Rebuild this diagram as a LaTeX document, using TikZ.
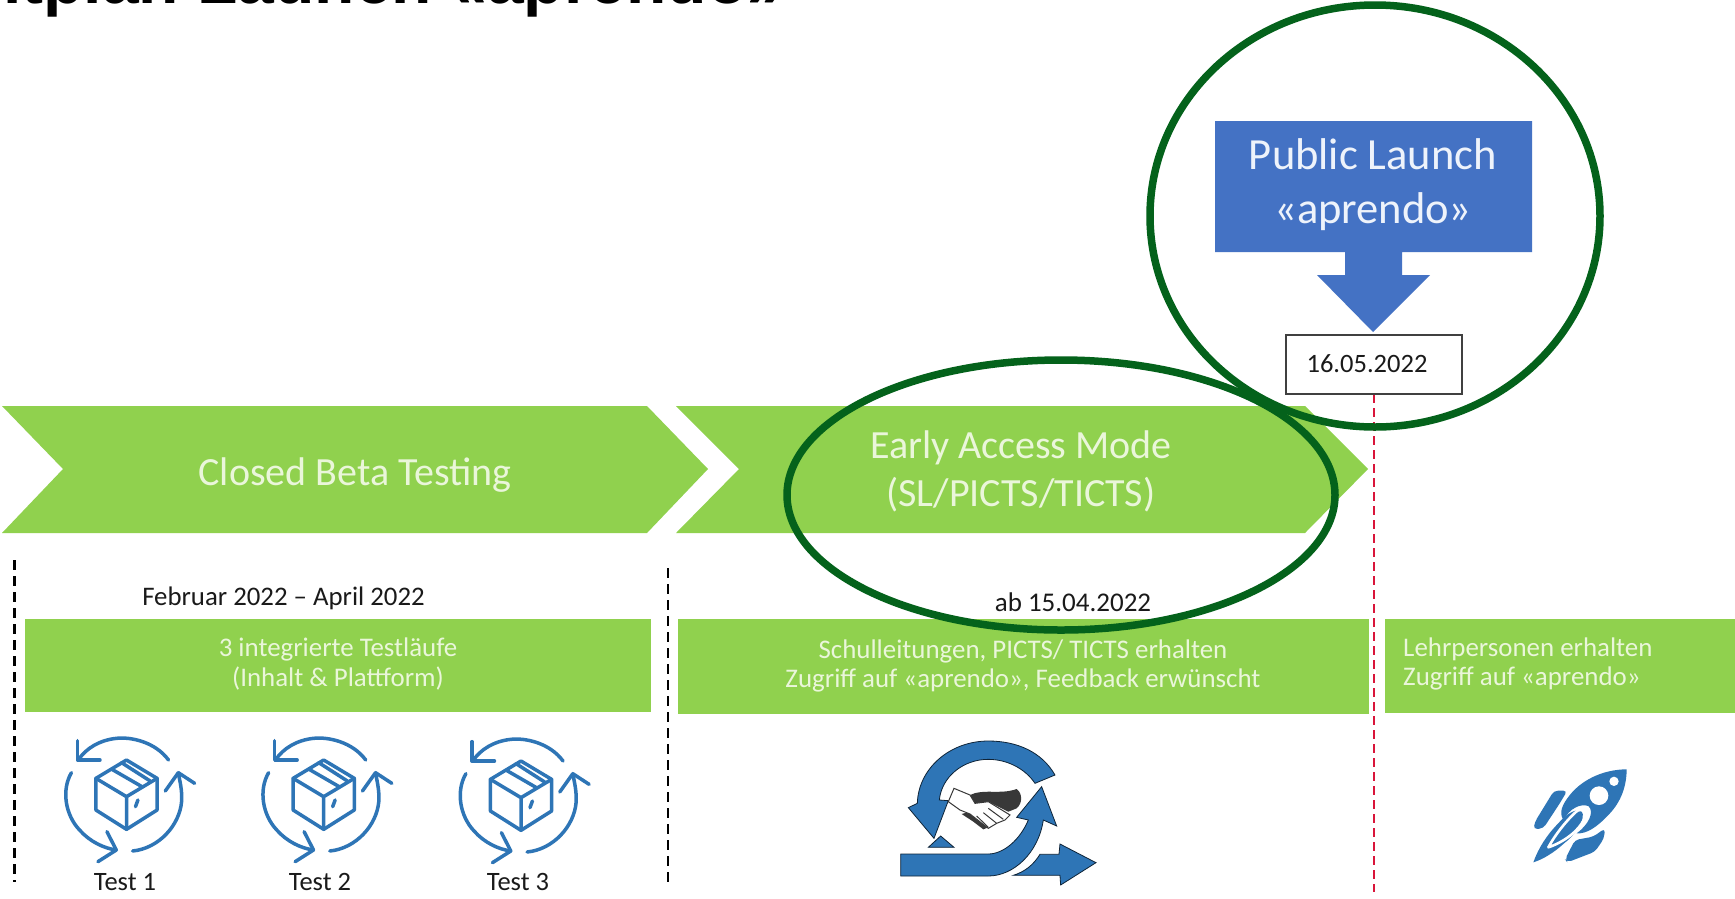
\documentclass[tikz,border=0pt]{standalone}
\usepackage{fontspec}
\setmainfont{Carlito}
\newfontfamily\titlefont{Liberation Sans}
\definecolor{lgreen}{HTML}{90D14E}
\definecolor{ltext}{HTML}{EAF6DA}
\definecolor{btext}{HTML}{EEF3FB}
\definecolor{bbox}{HTML}{4472C4}
\definecolor{ring}{HTML}{04621B}
\definecolor{iconblue}{HTML}{2E75B6}
\definecolor{dtext}{HTML}{1A1A1A}
\definecolor{redline}{HTML}{D9153A}
\newcommand{\fs}[1]{\fontsize{#1}{#1}\selectfont}
\tikzset{
  x=1pt,y=-1pt,
  greenshape/.style={fill=lgreen,draw=none},
  bandtext/.style={text=ltext,align=center,font=\fs{26.9},inner sep=0pt},
  chevtext/.style={text=ltext,align=center,font=\fs{40},inner sep=0pt},
  darktext/.style={text=dtext,inner sep=0pt,font=\fs{26.8}},
  testlabel/.style={text=dtext,inner sep=0pt,font=\fs{26.5}},
  blackdash/.style={draw=black,line width=2.4pt,dash pattern=on 10pt off 6pt},
  reddash/.style={draw=redline,line width=1.8pt,dash pattern=on 9pt off 5pt},
  ringline/.style={draw=ring,line width=7.5pt},
  iconline/.style={draw=iconblue,line width=3.5pt,line cap=round,line join=round},
  solidicon/.style={fill=iconblue,draw=black!70!iconblue,line width=0.8pt,line join=miter},
  rocketfill/.style={fill=iconblue,draw=none},
  boxcycle/.pic={
    \begin{scope}[x=0.408pt,y=-0.3333pt]
      \draw[iconline] (0,-105) -- (75,-50) -- (75,45) -- (0,103) -- (-75,45) -- (-75,-50) -- cycle;
      \draw[iconline] (-75,-50) -- (0,5) -- (75,-50) (0,5) -- (0,103);
      \draw[iconline] (-37,-78) -- (38,-25) (-12,-97) -- (58,-42);
      \draw[iconline] (28,15) -- (22,35);
      % top arc
      \draw[iconline] (103,-105) .. controls (70,-160) and (10,-175) .. (-25,-170) .. controls (-65,-165) and (-100,-140) .. (-118,-105);
      \draw[iconline] (-120,-163) -- (-120,-105) -- (-65,-105);
      % left arc
      \draw[iconline] (-135,-67) .. controls (-160,-15) and (-150,60) .. (-115,105) .. controls (-90,140) and (-55,160) .. (-25,165);
      \draw[iconline] (-48,110) -- (-25,165) -- (-70,200);
      % right arc
      \draw[iconline] (15,168) .. controls (80,160) and (130,90) .. (135,20) .. controls (137,-15) and (130,-45) .. (127,-67);
      \draw[iconline] (95,-12) -- (127,-67) -- (167,-35);
    \end{scope}
  }
}
\begin{document}
\begin{tikzpicture}
\path[use as bounding box,fill=white] (0,0) rectangle (1735,898);
\clip (0,0) rectangle (1735,898);

% title
\node[anchor=base west,inner sep=0pt,font=\titlefont\bfseries\fs{66},text=black] (title) at (3,3.5) {itplan Launch \raisebox{-4pt}{«}aprendo\raisebox{-4pt}{»}};

% chevrons
\path[greenshape] (2,406) -- (647,406) -- (708,469) -- (647,533) -- (2,533) -- (63,469) -- cycle;
\path[greenshape] (676,406) -- (1305,406) -- (1368,469) -- (1305,533) -- (676,533) -- (739,469) -- cycle;
\node[chevtext] (chevA) at (355,475) {Closed Beta Testing};
\node[chevtext] (chevB) at (1021,471) {Early Access Mode\\[8pt](SL/PICTS/TICTS)};

% dashed separators
\coordinate (dashAa) at (14.5,560); \coordinate (dashAb) at (14.5,882);
\coordinate (dashBa) at (668,568); \coordinate (dashBb) at (668,886);
\draw[blackdash] (dashAa) -- (dashAb);
\draw[blackdash] (dashBa) -- (dashBb);

% bands
\path[greenshape] (25,619) rectangle (651,712);
\path[greenshape] (678,619) rectangle (1369,714);
\path[greenshape] (1385,619) rectangle (1735,713);
\node[darktext] (dateA) at (283.5,598) {Februar 2022 – April 2022};
\node[darktext,font=\fs{27}] (dateB) at (1073,602) {ab 15.04.2022};
\node[bandtext] (bandA) at (338,664) {3 integrierte Testläufe\\[3pt](Inhalt \& Plattform)};
\node[bandtext] (bandB) at (1023,666) {Schulleitungen, PICTS/ TICTS erhalten\\[3pt]Zugriff auf «aprendo», Feedback erwünscht};
\node[bandtext,align=left,anchor=west] (bandC) at (1403,664) {Lehrpersonen erhalten\\[3pt]Zugriff auf «aprendo»};

% red line and public launch
\coordinate (redtop) at (1374,394); \coordinate (redbot) at (1374,892);
\draw[reddash] (redtop) -- (redbot);
\path[fill=bbox] (1215,121) -- (1532,121) -- (1532,252) -- (1402,252) -- (1402,275) -- (1430,275) -- (1373,332) -- (1317,275) -- (1345,275) -- (1345,252) -- (1215,252) -- cycle;
\node[text=btext,align=center,font=\fs{44.5},inner sep=0pt] (launch) at (1373,184.5) {Public Launch\\[9.5pt]«aprendo»};
\node[draw=black!75,line width=1.2pt,fill=white,minimum width=176pt,minimum height=59pt,inner sep=0pt] (datebox) at (1374,364.5) {};
\node[darktext,font=\fs{26.5}] (datetext) at (1367,364) {16.05.2022};

% rings
\draw[ringline] (1375,216) ellipse [x radius=225,y radius=211];
\draw[ringline] (1061,495) ellipse [x radius=274,y radius=135];

% test icons
\pic at (126.5,795) {boxcycle};
\pic at (323.7,795) {boxcycle};
\pic at (521,796) {boxcycle};
\node[testlabel] (t1) at (125,882) {Test 1};
\node[testlabel] (t2) at (320,882) {Test 2};
\node[testlabel] (t3) at (518,882) {Test 3};

% handshake icon
\begin{scope}[shift={(860,740)},x=0.3333pt,y=-0.3333pt]
  \path[solidicon] (122,342) -- (385,342) .. controls (430,342) and (480,300) .. (505,240) -- (470,232) -- (545,140) -- (590,258) -- (550,240) .. controls (535,340) and (460,408) .. (385,408) -- (122,408) -- cycle;
  \path[solidicon] (585,105) .. controls (545,35) and (470,3) .. (385,3) .. controls (270,3) and (175,85) .. (172,190) -- (145,203) -- (222,295) -- (265,182) -- (238,180) .. controls (245,110) and (310,58) .. (385,58) .. controls (440,58) and (495,85) .. (525,130) -- cycle;
  \path[solidicon] (205,322) -- (242,288) -- (282,322) -- cycle;
  \path[solidicon] (460,406) .. controls (495,395) and (520,375) .. (540,343) -- (597,343) -- (600,312) -- (708,368) -- (602,435) -- (600,406) -- cycle;
  % dark hand
  \path[fill=black!78] (330,165) .. controls (370,145) and (420,165) .. (470,147) .. controls (488,160) and (488,190) .. (470,205) -- (445,215) -- (385,185) -- (345,190) -- cycle;
  \path[fill=black!78] (305,222) -- (330,215) -- (385,262) -- (370,268) -- (340,245) -- cycle;
  % white hand
  \path[fill=white,draw=black!78,line width=1pt] (282,145) -- (330,165) -- (345,190) -- (385,185) -- (450,225) -- (435,240) -- (410,250) -- (385,265) -- (330,222) -- (300,210) -- (265,185) -- cycle;
  \draw[black!78,line width=1pt] (385,205) -- (430,238) (370,218) -- (410,250) (350,228) -- (385,262);
\end{scope}

% rocket icon
\begin{scope}[shift={(1480,740)},x=0.3333pt,y=-0.3333pt]
  \path[rocketfill] (440,88) .. controls (370,88) and (300,120) .. (262,175) .. controls (240,205) and (240,225) .. (250,240) .. controls (270,205) and (300,190) .. (325,198) .. controls (345,215) and (325,255) .. (290,280) .. controls (320,282) and (350,262) .. (385,225) .. controls (425,185) and (440,135) .. (440,88) -- cycle;
  \path[fill=white] (357,167) circle (28);
  \path[fill=white] (402,124) circle (14);
  \path[rocketfill,rounded corners=4pt] (222,152) -- (262,152) -- (238,192) -- (190,265) -- (160,268) -- (165,245) -- cycle;
  \path[rocketfill,rounded corners=4pt] (375,265) -- (372,295) -- (345,335) -- (262,367) -- (255,358) -- (285,300) -- (340,290) -- cycle;
  \path[rocketfill] (160,367) .. controls (175,325) and (200,285) .. (235,250) .. controls (255,225) and (285,205) .. (305,212) .. controls (320,240) and (285,285) .. (250,312) .. controls (225,335) and (190,358) .. (160,367) -- cycle;
  \draw[white,line width=2.6pt,line join=round] (205,322) .. controls (225,285) and (260,240) .. (292,212) .. controls (312,205) and (318,218) .. (312,238) .. controls (298,270) and (255,305) .. (205,322) -- cycle;
  \path[rocketfill] (230,298) .. controls (245,270) and (270,240) .. (298,225) .. controls (302,250) and (270,282) .. (230,298) -- cycle;
\end{scope}
\end{tikzpicture}
\end{document}
